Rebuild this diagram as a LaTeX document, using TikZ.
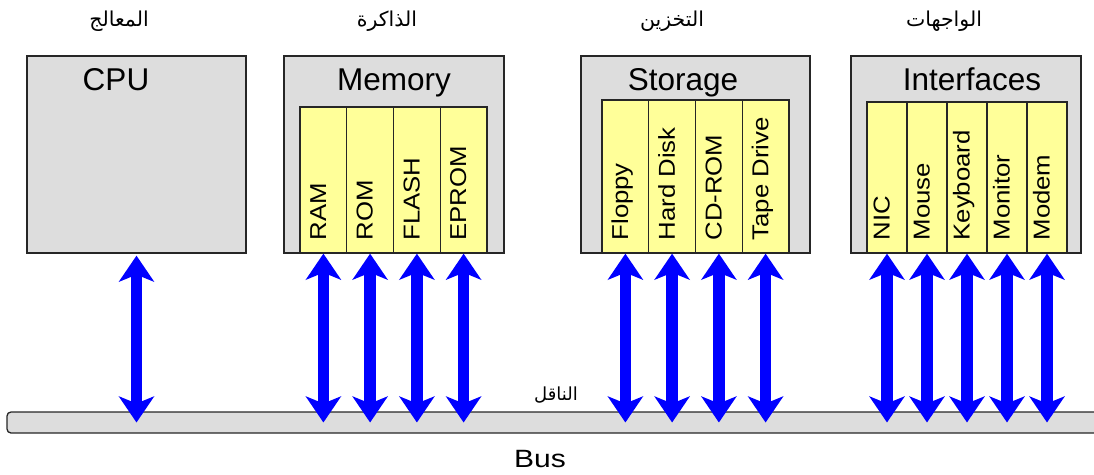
\documentclass[tikz,border=0pt]{standalone}
\usepackage{fontspec}
\usetikzlibrary{arrows.meta}
\setmainfont{Liberation Sans}
\newfontfamily\widefont[FakeStretch=1.12]{Liberation Sans}
\newfontfamily\busfont[FakeStretch=1.2]{Liberation Sans}
\newfontfamily\arabicfont[Script=Arabic]{DejaVu Sans}
\TeXXeTstate=1
\definecolor{boxgray}{HTML}{DDDDDD}
\definecolor{cellyellow}{HTML}{FFFF99}

\begin{document}
\begin{tikzpicture}[x=1pt,y=-1pt]
\tikzstyle{every node}=[inner sep=0pt];
\tikzstyle{unit}=[draw=black!85,line width=1.3pt,fill=boxgray,minimum height=197pt];
\tikzstyle{cell}=[draw=black!85,line width=1.3pt,fill=cellyellow];
\tikzstyle{celltext}=[rotate=90,anchor=mid west,font=\widefont\fontsize{23}{26}\selectfont];
\tikzstyle{title}=[anchor=base,font=\fontsize{31.5}{36}\selectfont];
\tikzstyle{arabic}=[anchor=base,font=\arabicfont\fontsize{20.5}{24}\selectfont];
\tikzstyle{link}=[draw=blue,line width=11.5pt,{Stealth[length=26pt,width=35pt,inset=7pt]}-{Stealth[length=26pt,width=35pt,inset=7pt]}];

\path[use as bounding box,clip] (0,0) rectangle (1094,474);

% the bus
\node[draw=black!85,line width=1.3pt,fill=boxgray,rounded corners=4pt,minimum width=1110pt,minimum height=21pt] (bus) at (562,422.5) {};
\node[anchor=base,font=\busfont\fontsize{25}{30}\selectfont] (buslabel) at (540,467) {Bus};
\node[arabic,font=\arabicfont\fontsize{18}{22}\selectfont] (busarabic) at (556,400) {\beginR الناقل\endR};

% the four units
\node[unit,minimum width=219pt] (cpu) at (136.5,154.5) {};
\node[unit,minimum width=220pt] (memory) at (394,154.5) {};
\node[unit,minimum width=229pt] (storage) at (695.5,154.5) {};
\node[unit,minimum width=230pt] (interfaces) at (966,154.5) {};

\node[title] (cputitle) at (116,90) {CPU};
\node[title] (memorytitle) at (394,90) {Memory};
\node[title] (storagetitle) at (683,90) {Storage};
\node[title] (interfacestitle) at (972,90) {Interfaces};

\node[arabic] (cpuarabic) at (119,26) {\beginR المعالج\endR};
\node[arabic] (memoryarabic) at (387,26) {\beginR الذاكرة\endR};
\node[arabic] (storagearabic) at (672,26) {\beginR التخزين\endR};
\node[arabic] (interfacesarabic) at (944,26) {\beginR الواجهات\endR};

% memory cells
\tikzstyle{memcell}=[cell,minimum width=46.75pt,minimum height=146pt];
\node[memcell] (ram) at (323.4,180) {};
\node[memcell] (rom) at (370.1,180) {};
\node[memcell] (flash) at (416.9,180) {};
\node[memcell] (eprom) at (463.6,180) {};
\node[celltext] (ramtext) at ([yshift=13pt]ram.south) {RAM};
\node[celltext] (romtext) at ([yshift=13pt]rom.south) {ROM};
\node[celltext] (flashtext) at ([yshift=13pt]flash.south) {FLASH};
\node[celltext] (epromtext) at ([yshift=13pt]eprom.south) {EPROM};

% storage cells
\tikzstyle{storecell}=[cell,minimum width=46.75pt,minimum height=153pt];
\node[storecell] (floppy) at (625.4,176.5) {};
\node[storecell] (harddisk) at (672.1,176.5) {};
\node[storecell] (cdrom) at (718.9,176.5) {};
\node[storecell] (tape) at (765.6,176.5) {};
\node[celltext] (floppytext) at ([yshift=13pt]floppy.south) {Floppy};
\node[celltext] (harddisktext) at ([yshift=13pt]harddisk.south) {Hard Disk};
\node[celltext] (cdromtext) at ([yshift=13pt]cdrom.south) {CD-ROM};
\node[celltext] (tapetext) at ([yshift=13pt]tape.south) {Tape Drive};

% interface cells
\tikzstyle{ifcell}=[cell,minimum width=40pt,minimum height=151pt];
\node[ifcell] (nic) at (887,177.5) {};
\node[ifcell] (mouse) at (927,177.5) {};
\node[ifcell] (keyboard) at (967,177.5) {};
\node[ifcell] (monitor) at (1007,177.5) {};
\node[ifcell] (modem) at (1047,177.5) {};
\node[celltext] (nictext) at ([yshift=13pt]nic.south) {NIC};
\node[celltext] (mousetext) at ([yshift=13pt]mouse.south) {Mouse};
\node[celltext] (keyboardtext) at ([yshift=13pt]keyboard.south) {Keyboard};
\node[celltext] (monitortext) at ([yshift=13pt]monitor.south) {Monitor};
\node[celltext] (modemtext) at ([yshift=13pt]modem.south) {Modem};

% links to the bus
\draw[link] ([yshift=-2pt]cpu.south) -- (cpu.south |- bus.center);
\draw[link] (ram.south) -- (ram.south |- bus.center);
\draw[link] (rom.south) -- (rom.south |- bus.center);
\draw[link] (flash.south) -- (flash.south |- bus.center);
\draw[link] (eprom.south) -- (eprom.south |- bus.center);
\draw[link] (floppy.south) -- (floppy.south |- bus.center);
\draw[link] (harddisk.south) -- (harddisk.south |- bus.center);
\draw[link] (cdrom.south) -- (cdrom.south |- bus.center);
\draw[link] (tape.south) -- (tape.south |- bus.center);
\draw[link] (nic.south) -- (nic.south |- bus.center);
\draw[link] (mouse.south) -- (mouse.south |- bus.center);
\draw[link] (keyboard.south) -- (keyboard.south |- bus.center);
\draw[link] (monitor.south) -- (monitor.south |- bus.center);
\draw[link] (modem.south) -- (modem.south |- bus.center);
\end{tikzpicture}
\end{document}
